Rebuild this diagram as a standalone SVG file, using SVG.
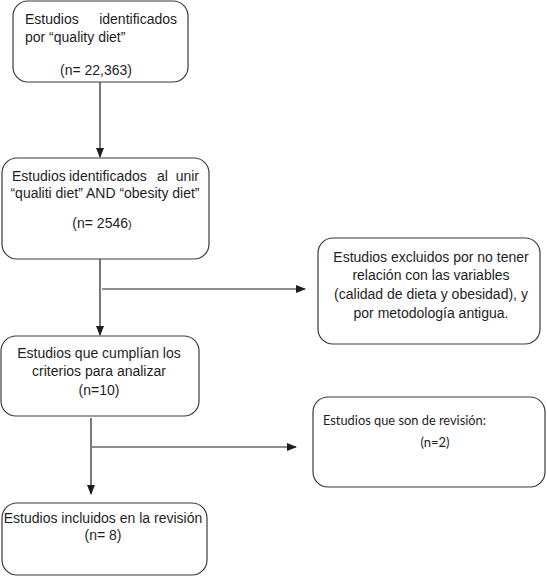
<svg xmlns="http://www.w3.org/2000/svg" width="547" height="576" viewBox="0 0 547 576">
<style>
.box{fill:#fff;stroke:#3a3a3a;stroke-width:1.2}
.t{font-family:"Liberation Sans",Arial,sans-serif;font-size:14px;fill:#1e1e1e}
.c{text-anchor:middle}
.cal{font-family:Lato,"Open Sans",sans-serif;font-size:13px;fill:#1e1e1e}
.ln{stroke:#1e1e1e;stroke-width:1.2;fill:none}
</style>
<defs>
<marker id="ah" markerWidth="10" markerHeight="8" refX="9" refY="4" orient="auto" markerUnits="userSpaceOnUse">
<path d="M0,0 L10,4 L0,8 Z" fill="#1e1e1e"/>
</marker>
</defs>
<rect width="547" height="576" fill="#fff"/>
<g id="connectors">
<line class="ln" x1="100" y1="82" x2="100" y2="157" marker-end="url(#ah)"/>
<line class="ln" x1="100" y1="259" x2="100" y2="335" marker-end="url(#ah)"/>
<line class="ln" x1="102" y1="289" x2="305" y2="289" marker-end="url(#ah)"/>
<line class="ln" x1="91" y1="418" x2="91" y2="494" marker-end="url(#ah)"/>
<line class="ln" x1="92" y1="447" x2="296" y2="447" marker-end="url(#ah)"/>
</g>
<g id="n1">
<rect class="box" x="13" y="1" width="175" height="81" rx="15"/>
<text class="t" x="25" y="24">Estudios</text>
<text class="t" x="177" y="24" text-anchor="end">identificados</text>
<text class="t" x="25" y="42">por “quality diet”</text>
<text class="t c" x="96" y="75">(n= 22,363)</text>
</g>
<g id="n2">
<rect class="box" x="2" y="158" width="207" height="101" rx="15"/>
<text class="t" x="12" y="181">Estudios</text>
<text class="t" x="69" y="181">identificados</text>
<text class="t" x="157" y="181">al</text>
<text class="t" x="199" y="181" text-anchor="end">unir</text>
<text class="t c" x="105" y="198" font-size="13">“qualiti diet” AND “obesity diet”</text>
<text class="t c" x="102" y="228">(n= 2546<tspan font-size="11">)</tspan></text>
</g>
<g id="n3">
<rect class="box" x="318" y="238" width="222" height="106" rx="15"/>
<text class="t c" x="431" y="262">Estudios excluidos por no tener</text>
<text class="t c" x="431" y="280">relación con las variables</text>
<text class="t c" x="431" y="299">(calidad de dieta y obesidad), y</text>
<text class="t c" x="431" y="318">por metodología  antigua.</text>
</g>
<g id="n4">
<rect class="box" x="1" y="336" width="198" height="80" rx="15"/>
<text class="t c" x="99" y="358">Estudios que cumplían los</text>
<text class="t c" x="99" y="376">criterios para analizar</text>
<text class="t c" x="99" y="395">(n=10)</text>
</g>
<g id="n5">
<rect class="box" x="313" y="397" width="232" height="90" rx="15"/>
<text class="cal" x="323" y="425" textLength="163" lengthAdjust="spacingAndGlyphs">Estudios que son de revisión:</text>
<text class="cal c" x="435" y="447">(n=2)</text>
</g>
<g id="n6">
<rect class="box" x="2" y="503" width="205" height="72" rx="15"/>
<text class="t c" x="103" y="523" font-size="13">Estudios incluidos  en la revisión</text>
<text class="t c" x="103" y="540">(n= 8)</text>
</g>
</svg>
